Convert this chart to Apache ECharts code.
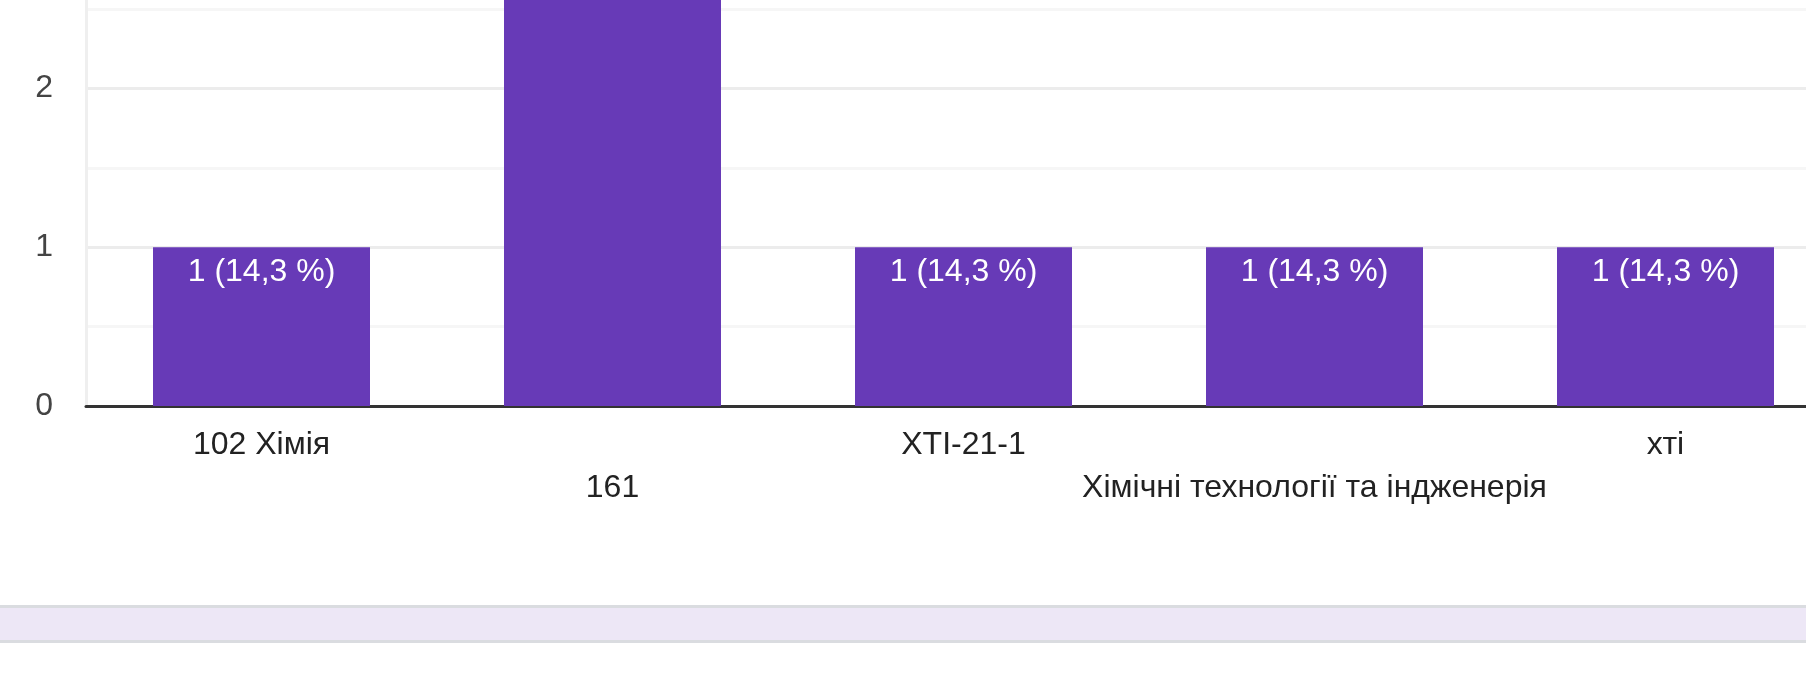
<!DOCTYPE html>
<html>
<head>
<meta charset="utf-8">
<script src="https://cdn.jsdelivr.net/npm/echarts@6/dist/echarts.min.js"></script>
<style>
  html, body { margin: 0; padding: 0; background: #ffffff; }
  #chart { width: 1806px; height: 686px; }
</style>
</head>
<body>
<div id="chart"></div>
<script>
const categories = ['102 Хімія', '161', 'ХТІ-21-1', 'Хімічні технології та індженерія', 'хті'];
const values = [1, 3, 1, 1, 1];
const yTicks = [0, 1, 2, 3];

const total = values.reduce((a, b) => a + b, 0);
const FONT = '"Liberation Sans", Arial, sans-serif';

const chart = echarts.init(document.getElementById('chart'), null, { renderer: 'canvas' });
chart.setOption({
  backgroundColor: '#ffffff',
  animation: false,
  grid: { left: 86, right: -35, top: -70.4, bottom: 280, containLabel: false, outerBoundsMode: 'none' },
  xAxis: {
    type: 'category',
    data: categories,
    axisLine: { show: true, lineStyle: { color: '#333333', width: 3 } },
    axisTick: { show: false },
    splitLine: { show: false },
    axisLabel: {
      interval: 0,
      fontFamily: FONT,
      fontSize: 32,
      color: '#222222',
      margin: 18,
      lineHeight: 43,
      formatter: (v, i) => (i % 2 ? '\n' + v : v)
    }
  },
  yAxis: {
    type: 'value',
    min: yTicks[0],
    max: yTicks[yTicks.length - 1],
    interval: 0.5,
    axisLine: { show: true, lineStyle: { color: '#efefef', width: 3 } },
    axisTick: { show: false },
    splitLine: { show: true, lineStyle: { color: ['#ececec', '#f6f6f6'], width: 3 } },
    axisLabel: {
      fontFamily: FONT,
      fontSize: 32,
      color: '#444444',
      margin: 33,
      formatter: v => (yTicks.includes(v) ? String(v) : '')
    }
  },
  series: [{
    type: 'bar',
    data: values,
    barWidth: 217,
    itemStyle: { color: '#673ab7' },
    label: {
      show: true,
      position: 'insideTop',
      distance: 9,
      fontFamily: FONT,
      fontSize: 32,
      color: '#ffffff',
      formatter: p => p.value + ' (' + (p.value / total * 100).toFixed(1).replace('.', ',') + ' %)'
    }
  }],
  graphic: [
    { type: 'rect', left: 0, top: 605, shape: { width: 1806, height: 3 }, style: { fill: '#dadce0' }, silent: true },
    { type: 'rect', left: 0, top: 608, shape: { width: 1806, height: 32 }, style: { fill: '#ede7f6' }, silent: true },
    { type: 'rect', left: 0, top: 640, shape: { width: 1806, height: 3 }, style: { fill: '#dadce0' }, silent: true }
  ]
});
</script>
</body>
</html>
